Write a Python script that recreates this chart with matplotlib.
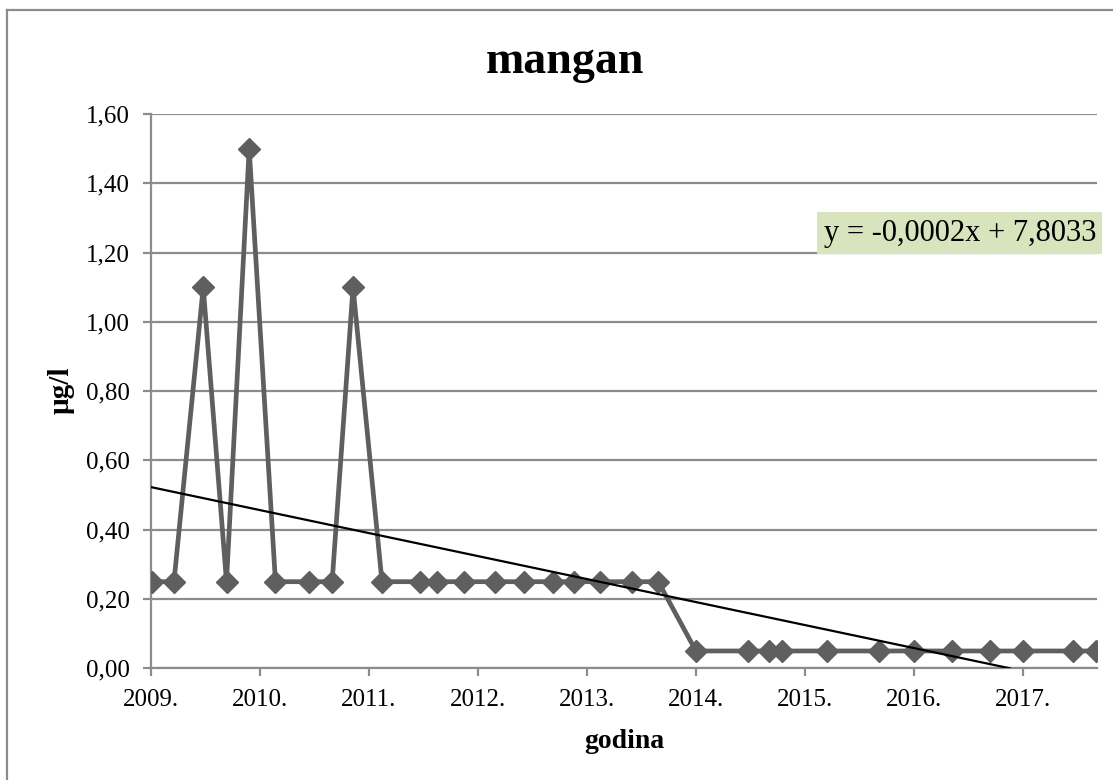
import numpy as np
import matplotlib
matplotlib.use("Agg")
import matplotlib.pyplot as plt
import matplotlib.dates as mdates
from matplotlib.lines import Line2D
from matplotlib.ticker import FuncFormatter, MultipleLocator

plt.rcParams['font.family'] = ['Liberation Serif', 'DejaVu Serif']

# sampling dates and mangan values
dates = ['2009-01-03', '2009-03-19', '2009-06-25', '2009-09-11', '2009-11-26',
         '2010-02-22', '2010-06-15', '2010-08-31', '2010-11-09', '2011-02-14',
         '2011-06-23', '2011-08-16', '2011-11-16', '2012-02-27', '2012-06-03',
         '2012-09-09', '2012-11-18', '2013-02-13', '2013-05-31', '2013-08-28',
         '2014-01-01', '2014-06-25', '2014-09-02', '2014-10-17', '2015-03-16',
         '2015-09-06', '2016-01-01', '2016-05-08', '2016-09-13', '2017-01-01',
         '2017-06-17', '2017-09-04']
values = [0.25, 0.25, 1.10, 0.25, 1.50,
          0.25, 0.25, 0.25, 1.10, 0.25,
          0.25, 0.25, 0.25, 0.25, 0.25,
          0.25, 0.25, 0.25, 0.25, 0.25,
          0.05, 0.05, 0.05, 0.05, 0.05,
          0.05, 0.05, 0.05, 0.05, 0.05,
          0.05, 0.05]

# linear trend as drawn in the picture
trend_dates = ['2009-01-01', '2016-11-18']
trend_values = [0.523, 0.0]
trend_label = 'y = -0,0002x + 7,8033'

x_range = ['2009-01-01', '2017-09-05']

x = np.array(dates, dtype='datetime64[D]')
tx = np.array(trend_dates, dtype='datetime64[D]')
xr = np.array(x_range, dtype='datetime64[D]')

fig = plt.figure(figsize=(11.13, 7.8), dpi=100)
ax = fig.add_axes([151 / 1113, 1 - 668.3 / 780, (1096.7 - 151) / 1113, (668.3 - 114) / 780])

grid_col = '#8c8c8c'
ax.set_axisbelow(True)
ax.yaxis.grid(True, color=grid_col, linewidth=1.6)

ax.plot(x, values, color='#5f5f5f', linewidth=3.4, marker='D', markersize=11.5,
        markerfacecolor='#5f5f5f', markeredgecolor='#5f5f5f', zorder=3,
        solid_joinstyle='miter')
ax.plot(tx, trend_values, color='black', linewidth=1.6, zorder=4)

ax.set_xlim(xr[0], xr[1])
ax.set_ylim(0, 1.6)
ax.yaxis.set_major_locator(MultipleLocator(0.2))
ax.yaxis.set_major_formatter(FuncFormatter(lambda v, p: ('%.2f' % v).replace('.', ',')))
ax.xaxis.set_major_locator(mdates.YearLocator())
ax.xaxis.set_major_formatter(mdates.DateFormatter('%Y.'))

for s in ['top', 'right']:
    ax.spines[s].set_visible(False)
for s in ['left', 'bottom']:
    ax.spines[s].set_color(grid_col)
    ax.spines[s].set_linewidth(1.6)
ax.tick_params(axis='both', direction='out', length=6, width=1.6, color=grid_col,
               labelsize=18, labelcolor='black')
ax.tick_params(axis='y', pad=9)
ax.tick_params(axis='x', pad=9)

fig.text(565 / 1113, 1 - 62 / 780, 'mangan', ha='center', va='center',
         fontsize=33, fontweight='bold')
ax.set_xlabel('godina', fontsize=20, fontweight='bold', labelpad=13)
fig.text(61 / 1113, 1 - 390 / 780, 'µg/l', ha='center', va='center', rotation=90,
         fontsize=21, fontweight='bold')

fig.text(1096 / 1113, 1 - 233 / 780, trend_label, ha='right', va='center', fontsize=22,
         bbox=dict(boxstyle='square,pad=0.2', facecolor='#d7e4bd', edgecolor='none'))

# outer chart border (left and top visible)
fig.add_artist(Line2D([7 / 1113, 7 / 1113], [0, 1 - 9.5 / 780], color='#8c8c8c', linewidth=1.6))
fig.add_artist(Line2D([7 / 1113, 1], [1 - 9.5 / 780, 1 - 9.5 / 780], color='#8c8c8c', linewidth=1.6))

fig.savefig('out.png', dpi=100)
